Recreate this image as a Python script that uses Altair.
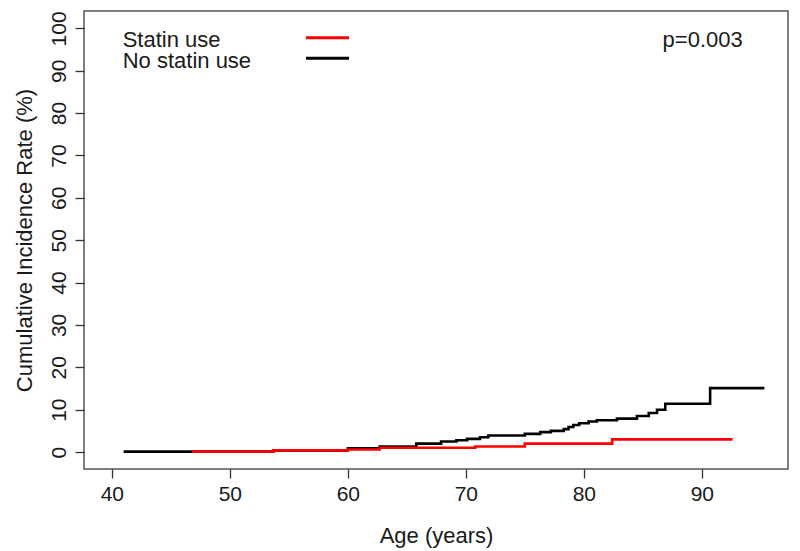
import altair as alt
import pandas as pd

# No statin use (black) step curve: age, cumulative incidence (%)
nostatin_age = [41.0, 53.7, 60.0, 62.7, 65.8, 67.9, 69.2, 70.1, 71.2, 71.9, 75.0, 76.3, 77.2,
                78.3, 78.7, 79.1, 79.6, 80.4, 81.1, 82.8, 84.5, 85.5, 86.2, 86.9, 90.7, 95.3]
nostatin_rate = [0.1, 0.4, 0.9, 1.3, 2.0, 2.5, 2.8, 3.1, 3.5, 3.9, 4.3, 4.7, 5.0,
                 5.4, 5.9, 6.4, 6.8, 7.2, 7.5, 7.9, 8.5, 9.2, 10.0, 11.4, 15.1, 15.1]

# Statin use (red) step curve
statin_age = [46.8, 53.7, 60.0, 62.7, 70.8, 75.0, 82.4, 92.6]
statin_rate = [0.1, 0.4, 0.6, 1.0, 1.3, 2.0, 3.0, 3.0]

x_ticks = [40, 50, 60, 70, 80, 90]
y_ticks = [0, 10, 20, 30, 40, 50, 60, 70, 80, 90, 100]

legend_labels = ["Statin use", "No statin use"]
legend_colors = ["#ff0000", "#000000"]
p_label = "p=0.003"

FONT = "Liberation Sans"
TXT = "#1a1a1a"

df_black = pd.DataFrame({"age": nostatin_age, "rate": nostatin_rate})
df_red = pd.DataFrame({"age": statin_age, "rate": statin_rate})

xscale = alt.Scale(domain=[37.64, 97.3], nice=False, zero=False)
yscale = alt.Scale(domain=[-4, 104.1], nice=False, zero=False)

xaxis = alt.Axis(values=x_ticks, title="Age (years)", grid=False, domain=False,
                 tickSize=9, tickWidth=1.3, tickColor="#333333",
                 labelFont=FONT, labelFontSize=21, labelColor=TXT, labelPadding=5,
                 titleFont=FONT, titleFontSize=22, titleFontWeight="normal", titleColor=TXT,
                 titleBaseline="alphabetic", titleY=73)
yaxis = alt.Axis(values=y_ticks, title="Cumulative Incidence Rate (%)", grid=False, domain=False,
                 tickSize=9, tickWidth=1.3, tickColor="#333333",
                 labelFont=FONT, labelFontSize=21, labelColor=TXT, labelPadding=10,
                 labelAngle=270, labelAlign="center", labelBaseline="alphabetic",
                 titleFont=FONT, titleFontSize=22, titleFontWeight="normal", titleColor=TXT,
                 titleBaseline="alphabetic", titleX=-52.5, titleAngle=270)

black = alt.Chart(df_black).mark_line(interpolate="step-after", color="#000000", strokeWidth=2.6).encode(
    x=alt.X("age:Q", scale=xscale, axis=xaxis),
    y=alt.Y("rate:Q", scale=yscale, axis=yaxis),
)
red = alt.Chart(df_red).mark_line(interpolate="step-after", color="#ff0000", strokeWidth=2.6).encode(
    x=alt.X("age:Q", scale=xscale),
    y=alt.Y("rate:Q", scale=yscale),
)

layers = [black, red]
for i, (lab, col) in enumerate(zip(legend_labels, legend_colors)):
    dy = i * 20.5
    layers.append(
        alt.Chart(pd.DataFrame({"t": [lab]})).mark_text(
            font=FONT, fontSize=22, color=TXT, align="left", baseline="alphabetic"
        ).encode(text="t:N", x=alt.value(38.7), y=alt.value(36.3 + dy))
    )
    layers.append(
        alt.Chart(pd.DataFrame({"c": [col]})).mark_rule(color=col, strokeWidth=3).encode(
            x=alt.value(222), x2=alt.value(265), y=alt.value(26.7 + dy)
        )
    )
layers.append(
    alt.Chart(pd.DataFrame({"t": [p_label]})).mark_text(
        font=FONT, fontSize=22, color=TXT, align="right", baseline="alphabetic"
    ).encode(text="t:N", x=alt.value(658.7), y=alt.value(36.3))
)

chart = alt.layer(*layers).properties(
    width=704, height=458,
    autosize=alt.AutoSizeParams(type="none"),
    padding={"left": 76, "top": 3, "right": 4, "bottom": 80},
    background="white",
).configure_view(stroke="#555555", strokeWidth=1.5)

chart.save("out.html", embed_options={"renderer": "svg", "actions": False})
